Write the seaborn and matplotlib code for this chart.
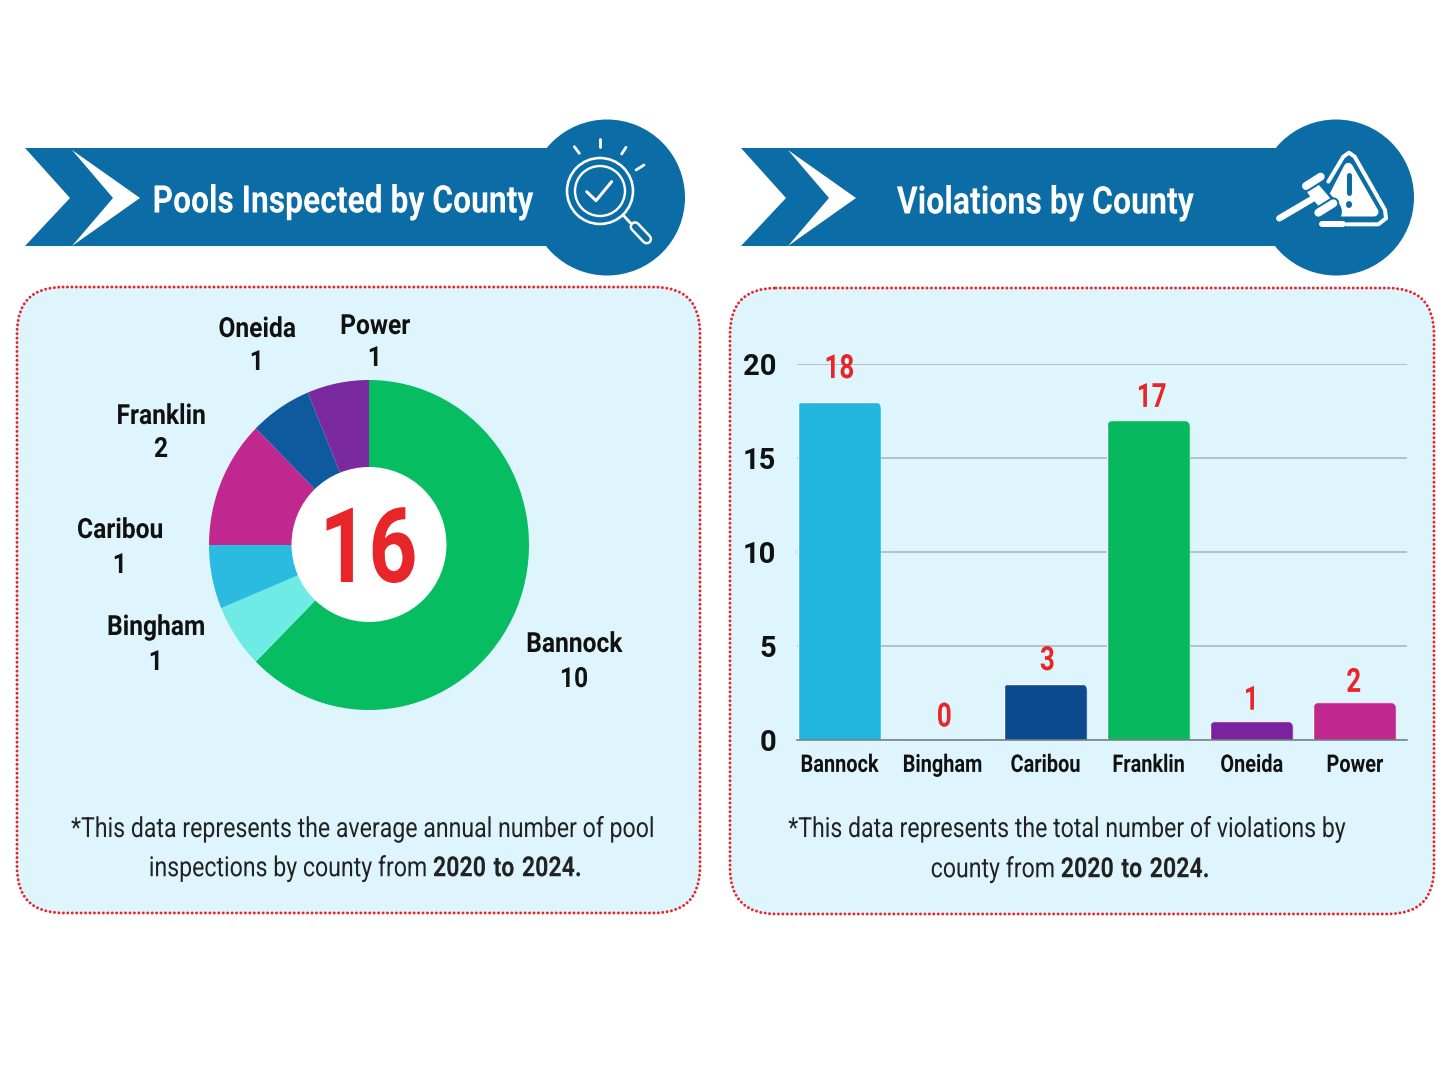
import matplotlib
matplotlib.use("Agg")
import matplotlib.pyplot as plt
from matplotlib.patches import Circle, FancyBboxPatch, Polygon
from matplotlib.patheffects import AbstractPathEffect
from matplotlib.transforms import Affine2D, Bbox
import pandas as pd
import seaborn as sns

# County data
counties = ["Bannock", "Bingham", "Caribou", "Franklin", "Oneida", "Power"]
pools_inspected = [10, 1, 1, 2, 1, 1]
violations = [18, 0, 3, 17, 1, 2]
pool_total = sum(pools_inspected)

# Colours
pie_colors = ["#06BD62", "#6FEBE6", "#2CBBE0", "#C0288F", "#0F5A9E", "#7A2A9E"]
bar_colors = ["#22B5DD", "#6FEBE6", "#0B4A8F", "#08B85F", "#7A22A0", "#C0288F"]
BLUE = "#0B6CA6"
PANEL = "#DFF5FD"
RED = "#E8262A"
INK = "#111111"

W, H = 1448, 1086
sns.set_theme(style="white")
plt.rcParams["font.family"] = ["Roboto", "DejaVu Sans"]
plt.rcParams["mathtext.fontset"] = "custom"
plt.rcParams["mathtext.rm"] = "Roboto"
plt.rcParams["mathtext.bf"] = "Roboto:bold"

fig = plt.figure(figsize=(W / 100, H / 100), dpi=100, facecolor="white")
renderer = fig.canvas.get_renderer()


class Condense(AbstractPathEffect):
    """Squeeze a text horizontally about its own centre."""

    def __init__(self, factor):
        super().__init__()
        self.factor = factor

    def draw_path(self, rend, gc, tpath, affine, rgbFace=None):
        box = affine.transform_path(tpath).get_extents()
        mid = (box.x0 + box.x1) / 2
        squeeze = Affine2D().translate(-mid, 0).scale(self.factor, 1).translate(mid, 0)
        rend.draw_path(gc, tpath, affine + squeeze, rgbFace)


def condense_text(t, factor):
    """Apply the squeeze and report the squeezed box as the text's extent."""
    t.set_path_effects([Condense(factor)])
    full_extent = t.get_window_extent

    def squeezed_extent(renderer=None, dpi=None):
        box = full_extent(renderer, dpi)
        mid = (box.x0 + box.x1) / 2
        half = box.width * factor / 2
        return Bbox.from_extents(mid - half, box.y0, mid + half, box.y1)

    t.get_window_extent = squeezed_extent
    return t


def px_axes(left, top_edge, right, bottom, zorder):
    """Axes placed by its pixel box on the canvas."""
    return fig.add_axes(
        [left / W, 1 - bottom / H, (right - left) / W, (bottom - top_edge) / H], zorder=zorder
    )


def pt(pixels):
    return pixels * 0.72


back = px_axes(0, 0, W, H, 0)
back.set_xlim(0, W)
back.set_ylim(H, 0)
back.axis("off")

top = px_axes(0, 0, W, H, 3)
top.set_xlim(0, W)
top.set_ylim(H, 0)
top.axis("off")
top.patch.set_alpha(0)


def narrow(x, y, s, size, factor, weight="bold", color=INK):
    t = top.text(x, y, s, color=color, fontsize=size, fontweight=weight,
                 ha="center", va="center_baseline")
    return condense_text(t, factor)


def panel(x0, y0, x1, y1):
    box = FancyBboxPatch(
        (x0, y0), x1 - x0, y1 - y0, boxstyle="round,pad=0,rounding_size=46",
        facecolor=PANEL, edgecolor=RED, linewidth=pt(3), linestyle=(0, (0.01, 1.47)),
    )
    box.set_capstyle("round")
    back.add_patch(box)


def banner(x0, x1, cx):
    back.add_patch(Polygon(
        [(x0, 148), (x1, 148), (x1, 246), (x0, 246), (x0 + 45, 198)],
        closed=True, facecolor=BLUE, edgecolor="none",
    ))
    back.add_patch(Circle((cx, 197.5), 78, facecolor=BLUE, edgecolor="none"))
    back.add_patch(Polygon(
        [(x0 + 47, 150), (x0 + 115, 198), (x0 + 47, 246), (x0 + 88, 198)],
        closed=True, facecolor="white", edgecolor="none",
    ))


panel(17, 287, 700, 913)
panel(730, 288, 1434, 914)
banner(25, 600, 607)
banner(741, 1320, 1336)

# Section titles
narrow(342.5, 198, "Pools Inspected by County", 27.4, 0.835, color="white")
narrow(1045, 199, "Violations by County", 27.4, 0.842, color="white")


def zoomed(ox, oy, pts):
    return [(ox + a / 3, oy + b / 3) for a, b in pts]


def stroke(ox, oy, pts, width, color="white"):
    p = zoomed(ox, oy, pts)
    top.plot([q[0] for q in p], [q[1] for q in p], color=color, lw=pt(width),
             solid_capstyle="round", solid_joinstyle="round")


# Magnifier icon
ox, oy = 520, 110
top.add_patch(Circle((600, 191), 33, fill=False, edgecolor="white", lw=pt(2.6)))
top.add_patch(Circle((600, 191), 25, fill=False, edgecolor="white", lw=pt(2.4)))
stroke(ox, oy, [(200, 245), (228, 272), (275, 215)], 3)
for ray in ([(163, 110), (178, 130)], [(239, 88), (239, 112)],
            [(318, 112), (305, 132)], [(372, 165), (348, 180)]):
    stroke(ox, oy, ray, 2.8)
stroke(ox, oy, [(312, 318), (337, 345)], 2.8)
stroke(ox, oy, [(345, 350), (380, 387)], 11)
stroke(ox, oy, [(345, 350), (380, 387)], 6, BLUE)

# Warning triangle and gavel icon
ox, oy = 1250, 110
stroke(ox, oy, [(235, 215), (280, 140), (297, 128), (314, 140), (405, 300),
                (408, 325), (385, 343), (290, 343)], 4)
top.add_patch(Polygon(zoomed(ox, oy, [(295, 172), (372, 306), (226, 306)]), closed=True,
                      facecolor="white", edgecolor="white", lw=pt(9), joinstyle="round"))
stroke(ox, oy, [(297, 195), (297, 250)], 5, BLUE)
stroke(ox, oy, [(297, 283), (297, 284)], 6, BLUE)
stroke(ox, oy, [(185, 245), (240, 305)], 24, BLUE)
stroke(ox, oy, [(88, 325), (195, 262)], 6.5)
stroke(ox, oy, [(192, 240), (222, 275)], 14)
stroke(ox, oy, [(168, 228), (212, 200)], 12, BLUE)
stroke(ox, oy, [(168, 228), (212, 200)], 8)
stroke(ox, oy, [(205, 308), (250, 280)], 12, BLUE)
stroke(ox, oy, [(205, 308), (250, 280)], 8)
stroke(ox, oy, [(215, 343), (278, 343)], 6)

# Donut: filled pie with a white centre
pie_ax = px_axes(209, 380, 529, 710, 1)
pie_ax.pie(pools_inspected, colors=pie_colors, startangle=90, counterclock=False, radius=1,
           wedgeprops={"linewidth": 0, "edgecolor": "none"})
pie_ax.set_xlim(-1, 1)
pie_ax.set_ylim(-1, 1)
pie_ax.set_aspect("auto")
top.add_patch(Circle((369, 544.5), 77.5, facecolor="white", edgecolor="none"))
narrow(368, 543, str(pool_total), 75, 0.82, color=RED)

# Slice captions
caption_boxes = [(574, 641.5, 676.5), (156, 624.5, 659.5), (120, 527.5, 562.5),
                 (161, 413.5, 446.5), (257, 326.5, 359.5), (375, 323.5, 355.5)]
for name, value, (cx, y_name, y_value) in zip(counties, pools_inspected, caption_boxes):
    narrow(cx, y_name, name, 20, 0.885)
    narrow(cx, y_value, str(value), 20, 0.885)

# Violations bar chart
bar_ax = px_axes(797, 364, 1407, 740, 1)
bar_ax.patch.set_alpha(0)
table = pd.DataFrame({"county": counties, "violations": violations})
sns.barplot(data=table, x="county", y="violations", hue="county", order=counties,
            hue_order=counties, palette=bar_colors, legend=False, width=0.81,
            saturation=1, ax=bar_ax)
bar_ax.set_xlim(-0.41, 5.507)
bar_ax.set_ylim(0, 20)
bar_ax.set_yticks([0, 5, 10, 15, 20])
bar_ax.set_xlabel("")
bar_ax.set_ylabel("")
bar_ax.yaxis.grid(True, color="#A9B5B8", lw=1.1)
bar_ax.set_axisbelow(True)
for side in ("top", "right", "left"):
    bar_ax.spines[side].set_visible(False)
bar_ax.spines["bottom"].set_color("#6F7A7D")
bar_ax.spines["bottom"].set_linewidth(1.1)
bar_ax.tick_params(axis="x", length=0, pad=10, labelsize=17.5, labelcolor=INK)
bar_ax.tick_params(axis="y", length=0, pad=15, labelsize=21, labelcolor=INK)
for tick in bar_ax.get_xticklabels():
    tick.set_fontweight("bold")
    condense_text(tick, 0.82)
for tick in bar_ax.get_yticklabels():
    tick.set_fontweight("bold")

# Rounded bar tops, scaled so corners stay circular on screen
x_per_px = 1 / 103.1
y_per_px = 20 / 376
for bar in bar_ax.patches:
    if bar.get_height() <= 0:
        continue
    clip = FancyBboxPatch(
        (bar.get_x(), -2), bar.get_width(), bar.get_height() + 2,
        boxstyle=f"round,pad=0,rounding_size={8 * x_per_px}",
        mutation_aspect=y_per_px / x_per_px, transform=bar_ax.transData,
    )
    bar.set_clip_path(clip)

# Value labels above the bars
label_nudge_px = [0, 2, 2, 3, 0, -1]
label_lift_px = [36, 26, 26, 26, 24, 23]
for i, (value, nudge, lift) in enumerate(zip(violations, label_nudge_px, label_lift_px)):
    note = bar_ax.annotate(str(value), (i, value), xytext=(nudge, lift), textcoords="offset pixels",
                           color=RED, fontsize=24, fontweight="bold", ha="center",
                           va="center_baseline", annotation_clip=False)
    note.set_path_effects([Condense(0.78)])

# Footnotes, with the closing date range in bold
FOOT = 20
FOOT_SQUEEZE = 0.832
date_range = r"$\mathbf{2020\ to\ 2024.}$"
narrow(362, 826.5, "*This data represents the average annual number of pool",
       FOOT, FOOT_SQUEEZE, weight="normal", color="#222222")
narrow(365, 864.5, "inspections by county from " + date_range,
       FOOT, FOOT_SQUEEZE, weight="normal", color="#222222")
narrow(1066, 826.5, "*This data represents the total number of violations by",
       FOOT, FOOT_SQUEEZE, weight="normal", color="#222222")
narrow(1070, 865.5, "county from " + date_range,
       FOOT, FOOT_SQUEEZE, weight="normal", color="#222222")

fig.savefig("out.png", dpi=100, facecolor="white")
